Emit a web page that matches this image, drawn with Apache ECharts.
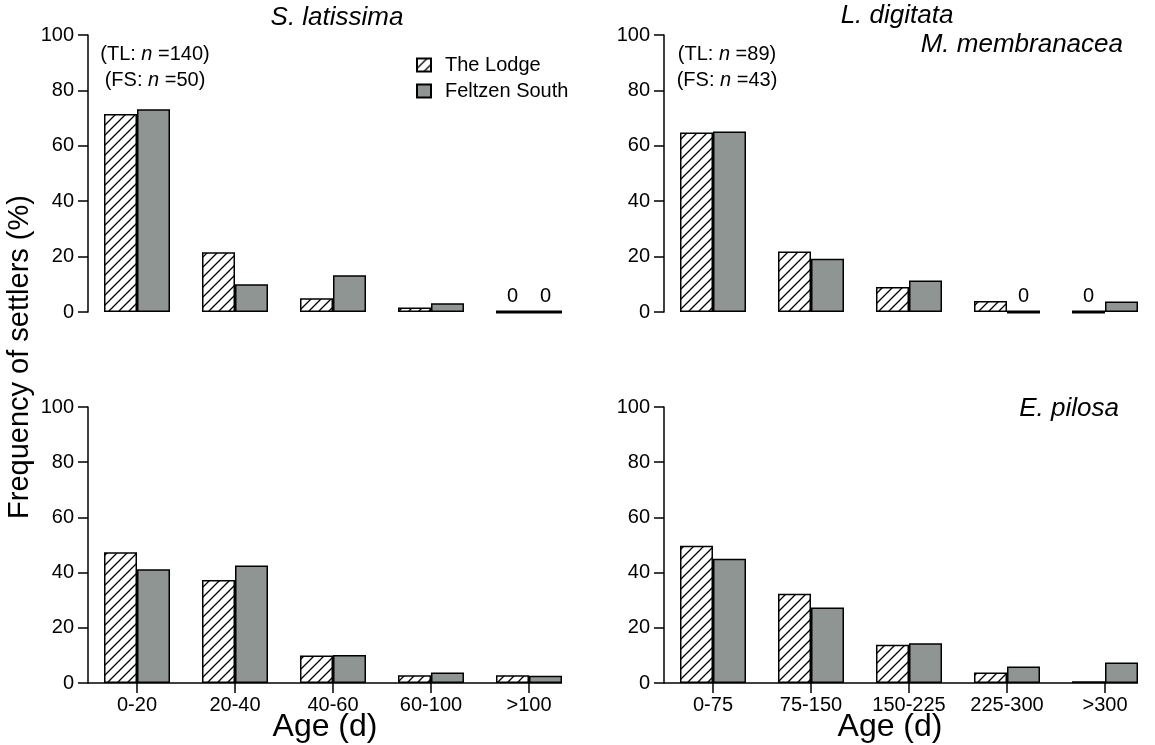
<!DOCTYPE html>
<html>
<head>
<meta charset="utf-8">
<script src="https://cdn.jsdelivr.net/npm/echarts@6/dist/echarts.min.js"></script>
<style>
html,body{margin:0;padding:0;background:#fff;}
#chart{width:1155px;height:745px;}
</style>
</head>
<body>
<div id="chart"></div>
<script>
// ---------- data ----------
const seriesNames = ['The Lodge', 'Feltzen South'];
const catsShort = ['0-20', '20-40', '40-60', '60-100', '>100'];
const catsLong = ['0-75', '75-150', '150-225', '225-300', '>300'];
const yTicks = [0, 20, 40, 60, 80, 100];

// S. latissima
const slatTL = [71.5, 21.6, 5.0, 1.6, 0];
const slatFS = [73.2, 10.0, 13.3, 3.2, 0];
// L. digitata / M. membranacea
const ldigTL = [64.8, 21.8, 9.0, 4.0, 0];
const ldigFS = [65.2, 19.2, 11.4, 0, 3.8];
// (second-row left, short age classes)
const blTL = [47.4, 37.3, 10.0, 2.8, 2.8];
const blFS = [41.2, 42.6, 10.1, 3.8, 2.6];
// E. pilosa
const epilTL = [49.7, 32.3, 13.9, 3.8, 0.6];
const epilFS = [45.0, 27.4, 14.4, 6.0, 7.4];

const panelTitles = ['S. latissima', 'L. digitata', 'M. membranacea', 'E. pilosa'];
const nNotes = [['140', '50'], ['89', '43']];

// ---------- styles ----------
const FONT = "'Liberation Sans', Arial, Helvetica, sans-serif";
const GREY = '#8f9592';
const BAR_W = 33;

function hatch() {
  const c = document.createElement('canvas');
  const s = 10;
  c.width = s; c.height = s;
  const g = c.getContext('2d');
  g.fillStyle = '#fff';
  g.fillRect(0, 0, s, s);
  g.strokeStyle = '#000';
  g.lineWidth = 1.3;
  g.beginPath();
  g.moveTo(-1, s + 1); g.lineTo(s + 1, -1);
  g.moveTo(-1, 1); g.lineTo(1, -1);
  g.moveTo(s - 1, s + 1); g.lineTo(s + 1, s - 1);
  g.stroke();
  return c;
}
const HATCH = { image: hatch(), repeat: 'repeat' };

const grids = [
  { left: 88, top: 35, width: 490, height: 277 },
  { left: 664, top: 35, width: 490, height: 277 },
  { left: 88, top: 407, width: 490, height: 276 },
  { left: 664, top: 407, width: 490, height: 276 }
];
const panelCats = [catsShort, catsLong, catsShort, catsLong];
const panelData = [[slatTL, slatFS], [ldigTL, ldigFS], [blTL, blFS], [epilTL, epilFS]];

const xAxes = [], yAxes = [], series = [];
grids.forEach((g, i) => {
  const bottom = i >= 2;
  xAxes.push({
    type: 'category', gridIndex: i, data: panelCats[i],
    axisLine: { show: false },
    axisTick: { show: bottom, alignWithLabel: true, length: 10, lineStyle: { color: '#000', width: 1.5 } },
    axisLabel: { show: bottom, color: '#000', fontSize: 20, fontFamily: FONT, margin: 12 },
    splitLine: { show: false }
  });
  yAxes.push({
    type: 'value', gridIndex: i, min: 0, max: 100, interval: 20,
    axisLine: { show: true, lineStyle: { color: '#000', width: 1.5 } },
    axisTick: { show: true, length: 10, lineStyle: { color: '#000', width: 1.5 } },
    axisLabel: { color: '#000', fontSize: 20, fontFamily: FONT, margin: 14 },
    splitLine: { show: false }
  });
  [0, 1].forEach(k => {
    series.push({
      type: 'bar', name: seriesNames[k], xAxisIndex: i, yAxisIndex: i,
      barWidth: BAR_W, barGap: '0%',
      itemStyle: { color: k === 0 ? HATCH : GREY, borderColor: '#000', borderWidth: 1.5 },
      data: panelData[i][k].map(v => v === 0
        ? { value: v, itemStyle: { borderWidth: 3 } }
        : { value: v }),
      label: {
        show: true, position: 'top', distance: 4, color: '#000', fontSize: 20, fontFamily: FONT,
        formatter: p => (p.value === 0 ? '0' : '')
      },
      silent: true, animation: false
    });
  });
  if (bottom) {
    const last = panelCats[i].length - 1;
    series.push({
      type: 'custom', xAxisIndex: i, yAxisIndex: i, silent: true, animation: false,
      data: [[panelCats[i][last], 0]],
      renderItem: (params, api) => {
        const p = api.coord([api.value(0), 0]);
        return {
          type: 'line',
          shape: { x1: params.coordSys.x, y1: p[1], x2: p[0] + BAR_W, y2: p[1] },
          style: { stroke: '#000', lineWidth: 1.5 }
        };
      }
    });
  }
});

function t(x, y, text, opts) {
  return {
    type: 'text', x: x, y: y, silent: true,
    style: Object.assign({ text: text, fill: '#000', font: '20px ' + FONT, textAlign: 'center', textVerticalAlign: 'middle' }, opts || {})
  };
}
function nText(x, y, site, n) {
  return {
    type: 'text', x: x, y: y, silent: true,
    style: {
      text: '{a|(' + site + ': }{i|n}{a| =' + n + ')}',
      rich: {
        a: { fontSize: 20, fontFamily: FONT, fill: '#000' },
        i: { fontSize: 20, fontFamily: FONT, fontStyle: 'italic', fill: '#000' }
      },
      textAlign: 'center', textVerticalAlign: 'middle'
    }
  };
}

const graphic = [
  t(337, 18, panelTitles[0], { font: 'italic 26px ' + FONT }),
  t(897, 16, panelTitles[1], { font: 'italic 26px ' + FONT }),
  t(1123, 45, panelTitles[2], { font: 'italic 26px ' + FONT, textAlign: 'right' }),
  t(1119, 409, panelTitles[3], { font: 'italic 26px ' + FONT, textAlign: 'right' }),
  nText(155, 54, 'TL', nNotes[0][0]),
  nText(155, 80, 'FS', nNotes[0][1]),
  nText(727, 54, 'TL', nNotes[1][0]),
  nText(727, 80, 'FS', nNotes[1][1]),
  t(325, 727, 'Age (d)', { font: '32px ' + FONT }),
  t(890, 727, 'Age (d)', { font: '32px ' + FONT }),
  { type: 'text', x: 20, y: 357, rotation: Math.PI / 2, silent: true,
    style: { text: 'Frequency of settlers (%)', fill: '#000', font: '29px ' + FONT, textAlign: 'center', textVerticalAlign: 'middle' } }
];

const chart = echarts.init(document.getElementById('chart'), null, { renderer: 'canvas' });
chart.setOption({
  animation: false,
  backgroundColor: '#fff',
  grid: grids,
  xAxis: xAxes,
  yAxis: yAxes,
  series: series,
  legend: {
    data: seriesNames.map(n => ({ name: n, icon: 'rect' })),
    orient: 'vertical', left: 416, top: 55, padding: 0,
    itemWidth: 14, itemHeight: 13, itemGap: 6,
    textStyle: { color: '#000', fontSize: 20, fontFamily: FONT, padding: [0, 0, 0, 9] },
    selectedMode: false
  },
  graphic: graphic
});
</script>
</body>
</html>
